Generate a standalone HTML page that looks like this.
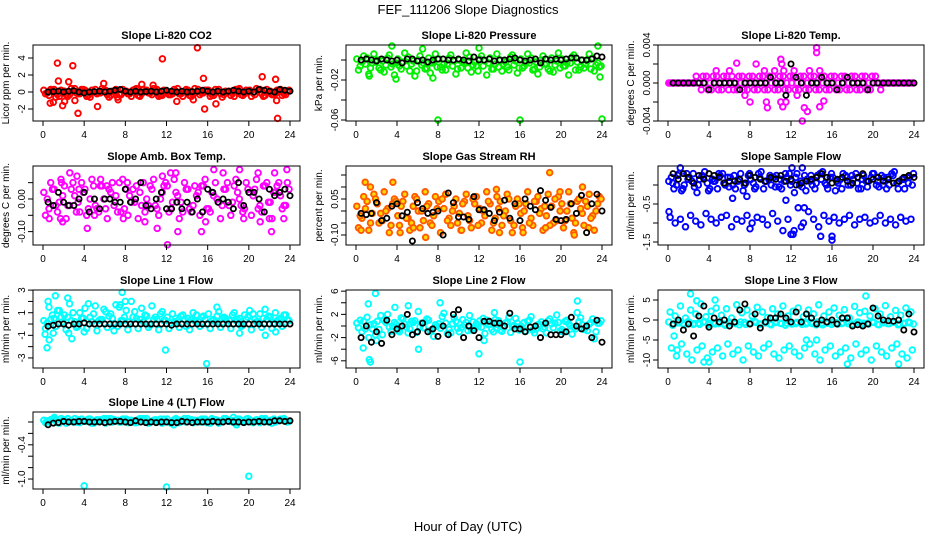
<!DOCTYPE html>
<html><head><meta charset="utf-8"><style>
body{margin:0;background:#fff;}
svg{display:block;font-family:"Liberation Sans",Arial,sans-serif;}
</style></head><body>
<svg id="chart" width="936" height="540" viewBox="0 0 936 540" xmlns="http://www.w3.org/2000/svg">
<rect width="936" height="540" fill="#fff"/>
<text x="468" y="14" text-anchor="middle" font-size="13">FEF_111206  Slope Diagnostics</text>
<text x="468" y="531" text-anchor="middle" font-size="13">Hour of Day (UTC)</text>
</svg>
<script>
const xTicks=[0,4,8,12,16,20,24];
// CO2
const co2A=[0.2,-0.4,0.3,-0.5,0.1,-0.3,0.4,-0.2,0.2,-0.6,0.3,-0.1,0.2,-0.4,0.3,-0.3,0.1,-0.5,0.4,-0.2,0.2,-0.3,0.3,-0.4,0.1,-0.2,0.4,-0.5,0.2,-0.3,0.3,-0.1,0.2,-0.4,0.3,-0.3,0.1,-0.5,0.4,-0.2,0.2,-0.3,0.3,-0.4,0.1,-0.2,0.3,-0.3];
const co2B=[-0.2,0.3,-0.6,0.2,-0.3,0.4,-0.1,0.3,-0.5,0.2,-0.2,0.4,-0.3,0.1,-0.6,0.3,-0.2,0.2,-0.4,0.3,-0.1,0.4,-0.5,0.2,-0.3,0.3,-0.2,0.1,-0.4,0.4,-0.3,0.2,-0.5,0.3,-0.2,0.1,-0.4,0.3,-0.3,0.2,-0.5,0.4,-0.2,0.3,-0.3,0.2,-0.4,0.1];
const co2C=[-0.1,0.2,-0.3,0.0,-0.5,0.1,-0.2,0.3,-0.4,0.0,-0.1,0.2,-0.6,0.1,-0.3,0.0,-0.2,0.3,-0.5,0.1,-0.1,0.2,-0.4,0.0,-0.3,0.1,-0.2,0.3,-0.5,0.0,-0.1,0.2,-0.3,0.1,-0.6,0.0,-0.2,0.3,-0.4,0.1,-0.1,0.2,-0.5,0.0,-0.3,0.1,-0.2,0.2];
const co2Out=[[1.4,3.4],[1.5,1.3],[1.9,-1.6],[2.5,1.2],[2.9,3.1],[3.4,-2.5],[0.7,-1.3],[5.3,-1.7],[5.9,1.0],[11.6,3.9],[13.0,-1.1],[15.0,5.2],[15.6,1.6],[15.7,-2.0],[16.8,-1.4],[21.3,1.8],[22.6,1.5],[22.8,-3.1],[14.6,-0.9],[22.7,-1.0],[7.3,-0.9],[9.6,0.9],[10.7,0.8],[2.1,-1.1],[3.1,-1.0],[1.0,-1.2]];
const co2K=[0.0,0.05,0.1,0.0,0.1,0.15,0.0,-0.1,0.0,0.05,0.1,0.0,0.1,0.2,0.3,0.1,0.0,0.1,0.0,0.05,0.1,0.0,0.1,0.2,0.1,0.0,0.1,0.0,0.05,0.1,0.2,0.1,0.0,0.1,0.0,0.1,0.2,0.1,0.0,0.1,0.0,0.3,0.2,0.1,0.0,0.3,0.2,0.1];
// Pressure
const prA=[0.001,-0.002,0.002,-0.003,0.000,-0.001,0.002,-0.004,0.001,-0.002,0.003,-0.001,0.000,-0.003,0.002,-0.002,0.001,-0.004,0.002,-0.001,0.000,-0.003,0.003,-0.002,0.001,-0.001,0.002,-0.004,0.000,-0.002,0.003,-0.001,0.001,-0.003,0.002,-0.002,0.000,-0.004,0.002,-0.001,0.001,-0.003,0.003,-0.002,0.000,-0.001,0.002,-0.003];
const prB=[-0.010,0.004,-0.014,0.006,-0.008,-0.012,0.005,-0.015,-0.006,0.007,-0.011,-0.016,0.004,-0.009,-0.013,0.006,-0.007,-0.010,0.005,-0.014,-0.008,0.007,-0.012,-0.006,0.004,-0.015,-0.009,0.006,-0.011,-0.007,0.005,-0.013,-0.008,0.006,-0.010,-0.014,0.004,-0.009,-0.012,0.007,-0.006,-0.015,0.005,-0.010,-0.008,0.006,-0.011,-0.007];
const prC=[-0.006,-0.004,-0.008,-0.002,-0.010,-0.005,-0.007,-0.003,-0.009,-0.006,-0.004,-0.011,-0.005,-0.008,-0.003,-0.007,-0.010,-0.004,-0.006,-0.009,-0.002,-0.008,-0.005,-0.011,-0.006,-0.003,-0.009,-0.007,-0.004,-0.010,-0.005,-0.008,-0.006,-0.003,-0.009,-0.007,-0.004,-0.011,-0.005,-0.008,-0.006,-0.003,-0.010,-0.007,-0.004,-0.009,-0.005,-0.006];
const prOut=[[8,-0.06],[16,-0.06],[24,-0.059],[23.8,-0.017],[3.5,0.014],[23.6,0.014],[12,0.012],[6.5,0.011],[7.5,-0.018],[1.3,-0.016],[3.9,-0.019]];
const prK=[0.000,0.001,0.000,-0.001,0.001,0.000,-0.001,0.000,-0.003,0.001,0.001,-0.001,0.000,-0.002,0.000,0.001,0.001,0.000,0.000,0.001,0.000,-0.001,0.003,0.000,0.000,0.001,-0.001,0.000,0.000,0.001,0.002,0.000,-0.001,0.000,0.001,-0.003,0.001,0.000,0.001,0.000,0.001,0.002,0.002,0.000,0.000,0.001,0.004,0.003];
// Li-820 Temp
const tpA=[0,0,0,0,0,0,0,0,0,0,0,0,0,0,0,0,0,0,0,0,0,0,0,0,0,0,0,0,0,0,0,0,0,0,0,0,0,0,0,0,0,0,0,0,0,0,0,0];
const tpB=[0,0,0,0,0,0.0007,-0.0007,0.0007,-0.0007,0.0007,-0.0007,0.0007,0.0007,-0.0007,0.0007,-0.0007,0.0007,-0.0007,0.0007,-0.0007,0.0007,-0.0007,0.0007,-0.0007,0.0007,-0.0007,0.0007,-0.0007,0.0007,-0.0007,0.0007,-0.0007,0.0007,-0.0007,0.0007,-0.0007,0.0007,-0.0007,0.0007,-0.0007,0.0007,-0.0007,0,0,0,0,0,0];
const tpC=[0,0,0,0,0,0,0.0007,-0.0007,0.0007,-0.0007,0.0007,-0.0007,-0.0007,0.0007,-0.0007,0.0007,-0.0007,0.0007,-0.0007,0.0007,-0.0007,0.0007,-0.0007,0.0007,-0.0007,0.0007,-0.0007,0.0007,-0.0007,0.0007,-0.0007,0.0007,-0.0007,0.0007,-0.0007,0.0007,-0.0007,0.0007,-0.0007,0.0007,0,0,0,0,0,0,0,0];
const tpOut=[[4.7,0.0013],[6,0.0013],[6.7,0.0021],[7.5,-0.0013],[8,-0.002],[8.6,0.002],[9.4,0.0013],[9.6,-0.002],[9.7,-0.0026],[10.4,0.0013],[11,0.0025],[11.1,0.002],[11.3,0.0013],[11,-0.002],[11.2,-0.0025],[11.5,-0.002],[12.3,0.0013],[12.6,-0.0013],[13.1,-0.004],[13.3,-0.0026],[13.6,-0.003],[14.5,0.0037],[14.5,0.0032],[14.8,-0.0025],[15.2,-0.0019],[13.8,0.0013],[14.8,0.0013]];
const tpK=[0,0,0,0,0,0,0,-0.0007,0,0,0,0,0,-0.0007,0,0,0,0,0,0.0006,0,0,-0.0013,0.002,0.0006,0,-0.0013,0,0,0.0006,0,0,-0.0007,0,0.0006,0,0,0,-0.0007,0,0,0,0,0,0,0,0,0];
// Amb box temp
const abA=[0.02,-0.03,0.03,-0.01,0.04,-0.02,0.01,-0.04,0.03,0.00,-0.02,0.04,-0.03,0.02,0.01,-0.04,0.03,-0.01,0.04,-0.02,0.00,0.03,-0.03,0.02,0.04,-0.01,0.01,-0.04,0.03,-0.02,0.02,0.04,-0.03,0.01,-0.01,0.03,-0.02,0.04,0.00,-0.03,0.02,0.03,-0.02,0.04,-0.01,0.02,0.01,-0.02];
const abB=[-0.05,0.05,-0.02,0.06,-0.06,0.03,-0.04,0.05,-0.05,0.06,-0.03,0.04,-0.06,0.05,-0.04,0.06,-0.05,0.03,-0.06,0.05,-0.02,0.06,-0.05,0.04,-0.04,0.06,-0.06,0.05,-0.03,0.04,-0.05,0.06,-0.04,0.05,-0.06,0.03,-0.05,0.06,-0.02,0.05,-0.05,0.06,-0.04,0.05,-0.06,0.04,-0.03,0.05];
const abC=[0.00,0.03,-0.04,0.01,-0.02,0.05,-0.01,0.02,-0.03,0.04,-0.04,0.00,0.03,-0.02,0.05,-0.03,0.01,-0.01,0.02,-0.04,0.04,-0.02,0.00,0.05,-0.03,0.02,-0.01,0.03,-0.04,0.01,0.04,-0.03,0.02,0.00,-0.02,0.05,-0.01,0.02,-0.04,0.03,0.01,-0.03,0.04,-0.01,0.02,0.05,-0.02,0.03];
const abOut=[[1.8,0.05],[1.7,-0.06],[1.9,-0.07],[2.6,0.08],[3.3,0.07],[3.5,0.03],[4.3,-0.09],[5.6,0.06],[6.2,0.04],[7.8,-0.06],[8.2,0.05],[9.9,-0.07],[11.1,-0.09],[11.6,0.07],[12.1,-0.14],[12.4,0.08],[12.9,0.08],[13.1,-0.10],[15.4,-0.10],[15.8,-0.07],[16.6,0.09],[17.5,0.08],[19.1,0.09],[19.5,-0.06],[20.9,0.08],[21.1,-0.07],[22,-0.06],[22.2,-0.10],[22.5,0.08],[23.4,-0.06],[23.7,0.09],[0.6,-0.06],[5.0,-0.05]];
const abK=[-0.01,-0.02,0.02,-0.01,-0.02,-0.02,0.00,0.02,-0.04,0.00,-0.03,0.00,0.00,-0.01,-0.01,0.03,-0.01,0.00,0.05,-0.02,-0.03,0.00,0.02,-0.03,-0.03,-0.01,-0.03,-0.01,-0.04,0.00,-0.04,0.03,0.02,-0.01,0.00,-0.01,-0.03,0.05,-0.02,0.02,0.02,0.00,-0.04,0.03,0.01,0.02,0.03,0.01];
// Gas stream RH
const rhA=[0.02,-0.03,0.04,-0.01,0.03,-0.04,0.01,0.03,-0.02,0.04,-0.03,0.02,0.00,-0.04,0.03,-0.02,0.04,0.01,-0.03,0.02,-0.01,0.04,-0.04,0.03,0.01,-0.02,0.03,-0.03,0.04,0.00,-0.04,0.02,-0.01,0.03,-0.03,0.04,0.01,-0.02,0.02,-0.04,0.03,0.00,-0.03,0.04,-0.01,0.02,-0.02,0.03];
const rhB=[-0.07,0.06,-0.08,0.07,-0.05,0.08,-0.09,0.05,-0.06,0.07,-0.08,0.06,-0.07,0.08,-0.05,0.06,-0.09,0.07,-0.06,0.05,-0.08,0.07,-0.07,0.06,-0.05,0.08,-0.08,0.06,-0.06,0.07,-0.09,0.05,-0.07,0.08,-0.06,0.06,-0.08,0.07,-0.05,0.06,-0.07,0.08,-0.09,0.05,-0.06,0.07,-0.08,0.06];
const rhC=[-0.02,0.01,-0.05,0.05,-0.01,0.00,-0.06,0.04,0.02,-0.03,-0.05,0.05,0.00,0.02,-0.06,0.01,0.05,-0.04,0.00,-0.05,0.03,-0.02,0.05,-0.06,0.00,0.04,-0.05,0.01,-0.02,0.05,-0.06,0.03,0.00,-0.05,0.04,-0.01,0.02,-0.06,0.05,0.00,-0.04,0.03,-0.05,0.01,0.04,-0.03,0.00,0.05];
const rhOut=[[0.9,0.12],[1.4,0.10],[3.6,0.12],[4.3,-0.09],[5.6,-0.07],[6.8,-0.11],[10.3,-0.08],[13.7,0.09],[14.0,-0.09],[16.3,-0.09],[18.5,-0.07],[18.9,0.16],[19.9,0.08],[21.3,-0.10],[22.1,0.10],[22.7,-0.07],[0.5,-0.08]];
const rhK=[-0.01,-0.015,-0.01,0.035,-0.04,-0.03,0.02,0.03,-0.02,-0.005,-0.125,0.035,0.01,-0.01,-0.005,0.0,-0.1,0.075,0.035,-0.025,-0.025,-0.035,0.06,0.005,0.005,-0.01,-0.04,-0.005,0.045,-0.03,0.03,-0.04,0.05,0.02,0.005,0.085,0.045,0.015,-0.035,-0.04,-0.035,0.03,-0.01,0.065,-0.09,0.03,0.07,0.0];
// Sample flow
const sfA=[0.1,-0.1,0.3,0.0,0.2,-0.05,0.15,0.35,-0.1,0.1,0.25,0.0,0.2,-0.1,0.3,0.05,0.15,-0.05,0.35,0.1,0.0,0.25,-0.1,0.2,0.1,0.3,-0.05,0.15,0.0,0.25,0.35,-0.1,0.2,0.05,0.3,0.0,0.15,-0.1,0.25,0.1,0.3,-0.05,0.2,0.0,0.35,0.1,-0.1,0.2];
const sfB=[-0.85,-1.0,-0.9,-1.1,-0.8,-0.95,-1.05,-0.75,-0.9,-1.0,-0.85,-0.8,-1.1,-0.9,-0.95,-0.8,-1.0,-0.85,-0.9,-1.05,-0.75,-0.95,-1.2,-0.9,-1.3,-0.6,-1.0,-0.7,-0.9,-1.1,-0.8,-0.95,-0.85,-1.0,-0.9,-0.8,-1.05,-0.9,-0.85,-1.0,-0.95,-0.8,-1.0,-0.9,-1.05,-0.85,-0.95,-0.9];
const sfC=[0.2,0.0,-0.15,0.3,0.1,-0.2,0.25,0.05,0.15,-0.1,0.3,0.2,0.0,0.1,-0.15,0.25,0.05,0.3,-0.1,0.15,0.2,-0.05,0.1,0.3,-0.2,0.0,0.25,0.1,-0.1,0.3,0.05,0.2,-0.15,0.15,0.25,0.0,0.3,-0.1,0.1,0.2,0.0,0.25,-0.1,0.3,0.05,0.15,0.2,0.0];
const sfD=[0.05,0.25,-0.1,0.15,0.3,0.0,0.2,-0.15,0.1,0.3,0.05,-0.05,0.25,0.15,0.0,0.3,-0.1,0.2,0.1,0.25,-0.05,0.15,0.3,0.0,0.2,0.1,-0.15,0.25,0.05,0.15,0.0,0.3,0.1,-0.1,0.2,0.25,0.05,0.15,-0.05,0.3,0.1,0.0,0.2,0.25,-0.1,0.15,0.05,0.3];
const sfOut=[[12,-1.3],[12.3,-1.2],[13,-1.1],[13.3,-0.6],[14.9,-1.35],[16,-1.45],[16,-1.35],[12.1,0.45],[13.1,0.45],[1.2,0.45],[0.1,-0.7],[8,-1.15],[11.5,-0.4],[6.3,-0.35],[7.7,-0.3]];
const sfK=[0.3,0.15,0.3,0.2,0.05,0.25,0.15,0.3,0.25,0.2,0.05,0.1,0.1,0.15,0.05,0.25,0.2,0.15,0.1,0.2,0.15,0.25,0.1,0.15,0.0,0.05,0.1,0.15,0.2,0.3,0.2,0.05,0.15,0.2,0.1,0.05,0.2,0.3,0.1,0.15,0.2,0.1,0.15,0.05,0.1,0.2,0.25,0.2];
// Line 1
const l1A=[0.3,1.5,0.5,1.2,0.8,1.8,0.2,1.0,1.4,0.6,1.6,0.4,1.1,0.9,1.7,0.3,1.2,2.0,0.5,1.4,0.7,1.6,0.4,1.1,0.6,0.9,0.3,0.8,0.5,1.0,0.2,0.7,0.9,0.4,1.1,0.6,0.3,1.0,0.5,0.8,1.2,0.4,0.9,1.3,0.6,1.0,0.5,0.8];
const l1B=[-0.4,0.4,-0.2,0.6,-0.5,0.3,-0.3,0.5,-0.4,0.2,-0.6,0.4,-0.3,0.5,-0.2,0.3,-0.5,0.6,-0.4,0.2,-0.3,0.4,-0.5,0.3,-0.4,0.2,-0.3,0.4,-0.5,0.3,-0.2,0.4,-0.4,0.2,-0.3,0.5,-0.4,0.3,-0.2,0.4,-0.5,0.2,-0.3,0.4,-0.4,0.3,-0.2,0.4];
const l1C=[0.1,0.8,1.2,0.2,0.6,1.0,-0.2,0.5,1.8,0.9,0.3,1.3,0.7,0.0,1.5,0.6,0.2,1.1,0.4,0.8,-0.1,0.6,0.9,0.3,0.1,0.5,0.7,-0.2,0.4,0.8,0.6,0.0,0.3,0.7,0.5,0.1,0.8,0.4,-0.1,0.6,0.9,0.2,0.5,0.7,0.1,0.4,0.8,0.3];
const l1Out=[[0.2,-0.9],[0.4,-2.1],[0.6,-1.4],[0.5,2.0],[1.0,-0.8],[1.2,2.5],[2.4,2.3],[2.8,-1.3],[4,-0.7],[7.7,2.8],[7.5,1.7],[8,2.0],[6.9,-0.6],[11.9,-2.3],[15.9,-3.5],[16.9,1.5],[19.1,-0.8],[21.6,-1.0],[22.6,-0.7],[2.5,-0.8]];
const l1K=[-0.2,-0.1,0,0,-0.1,0,0,0.1,0,0,0,0,0,0,0,0,0,0,0,0,0,0,0,0,-0.1,0,0,0,0,0,0,0,0,0,0,0,0,0,0,0,0,0,0,0,0,0,0,0];
// Line 2
const l2A=[0.5,-1.0,1.5,-0.5,0.8,-1.5,2.0,0.0,-0.8,1.2,-1.2,0.6,2.5,-0.3,1.0,-1.8,0.4,2.2,-0.6,1.4,-1.0,0.2,1.8,-0.4,0.9,-1.3,0.3,1.1,-0.7,0.5,-1.1,1.3,0.0,-0.9,1.6,-0.5,0.7,-1.2,0.4,1.9,-0.6,1.0,-1.4,2.3,0.2,-0.8,1.2,0.5];
const l2B=[-0.3,0.8,-2.0,0.4,-0.6,1.0,-0.2,0.6,-1.0,0.3,-0.5,0.9,-0.1,0.7,-0.8,0.2,-0.4,0.5,-1.2,0.8,-0.3,0.6,-0.7,0.4,-0.2,1.0,-0.6,0.3,-0.9,0.7,-0.1,0.5,-0.4,0.8,-0.7,0.2,-0.5,0.9,-0.3,0.6,-1.0,0.4,-0.2,0.7,-0.6,0.3,-2.2,0.5];
const l2C=[1.0,-0.5,0.2,-1.5,1.8,0.6,-0.9,0.3,1.4,-0.2,0.8,-1.1,0.5,1.2,-0.6,0.0,1.6,-1.3,0.4,-0.4,1.1,-0.8,0.7,-0.1,1.3,0.2,-1.0,0.9,-0.3,1.5,0.1,-0.7,0.6,1.0,-1.2,0.3,-0.2,1.2,0.5,-0.9,0.8,0.0,-0.5,1.4,-0.3,0.6,-1.0,0.9];
const l2Out=[[0.7,-3.8],[1.3,-5.8],[1.4,-6.2],[1.2,3.8],[1.9,5.6],[12,-4.8],[16,-6.2],[13.5,2.3],[21.6,4.3],[12.5,-2.5],[6.1,-4.0],[2.0,-2.5],[3.8,3.2],[5.1,3.5],[8.2,4.0]];
const l2K=[-2,0,-2.8,-1,-3,1,-1.5,-0.5,0,2,-1.5,-1,0.5,-1,-0.5,-1.8,0,-1.5,2,2.8,-2,0,-0.8,-2,0.8,0.8,0.5,0.5,0,2.2,-0.5,-0.5,-1,-0.2,0,-2,0.5,-1.5,-1.5,-1.5,-1,1.5,0,-0.5,0,-2,1,-2.8];
// Line 3
const l3A=[-0.5,-1.0,-0.7,-1.2,-0.6,-0.9,-1.1,-0.4,-0.8,-1.0,-0.6,-1.3,-0.7,-0.9,-0.5,-1.1,-0.8,-0.6,-1.0,-0.7,-1.2,-0.5,-0.9,-0.8,-1.0,-0.6,-1.1,-0.7,-0.9,-0.5,-1.2,-0.8,-0.6,-1.0,-0.7,-0.9,-1.1,-0.5,-0.8,-1.0,-0.6,-1.2,-0.7,-0.9,-0.5,-1.0,-0.8,-0.7];
const l3B=[2,1,3.5,0.5,2.5,1.5,4,0.8,2.2,3,1.2,2.8,0.5,3.8,1.8,2.5,1,3.2,2,0.6,2.8,1.5,3.5,1,2.2,3,0.8,2.5,1.5,3.8,1,2,3,1.2,2.6,0.5,3.4,1.8,2.2,1,2.8,1.5,3.6,0.8,2.4,1.2,3,2];
const l3C=[-7,-9,-6,-8.5,-10,-7.5,-6.5,-9.5,-8,-7,-9,-6,-8.5,-7.5,-10,-6.5,-8,-9,-7,-6,-8.5,-9.5,-7.5,-6.5,-8,-9,-7,-6,-8.5,-10,-7.5,-6.5,-9,-8,-7,-9.5,-6,-8.5,-7.5,-10,-6.5,-8,-9,-7,-6,-8.5,-9.5,-7.5];
const l3D=[-1.3,-0.6,-0.9,-0.4,-1.1,-0.8,-0.5,-1.2,-0.7,-0.9,-1.0,-0.5,-0.8,-1.2,-0.6,-0.9,-0.4,-1.1,-0.7,-1.0,-0.6,-0.8,-1.3,-0.5,-0.9,-0.7,-1.0,-0.6,-1.2,-0.8,-0.5,-1.1,-0.7,-0.9,-0.4,-1.0,-0.6,-1.2,-0.8,-0.5,-1.1,-0.7,-0.9,-0.6,-1.2,-0.8,-0.5,-1.0];
const l3Out=[[2.2,6.5],[19.3,6],[3.5,-10.5],[4,-10.5],[17.5,-11],[22.5,-11],[0.6,-4],[2.8,4.8],[4.6,5],[0.9,-7.5],[13.5,-5],[14.5,-5]];
const l3K=[-1,0,-2.5,-1,-4,1,3.5,-1.8,0.5,-0.5,0,-1.5,-0.5,2.5,4,-1,1.5,-2,-0.5,0.5,0.5,1.5,0.5,-0.5,2,-0.5,1.5,0.5,-1,0,-0.5,0,-1,0.5,0.5,-1.5,-1.2,-1.5,-1,3,1,0,-0.2,-0.3,0,-2.5,1.5,-3];
// Line 4
const l4A=[0.03,0.0,0.05,-0.02,0.04,0.01,0.06,-0.01,0.03,0.05,0.0,0.04,-0.02,0.06,0.02,0.0,0.05,0.03,-0.01,0.04,0.06,0.01,0.03,-0.02,0.05,0.0,0.04,0.02,0.06,-0.01,0.03,0.05,0.0,0.04,-0.02,0.06,0.01,0.03,0.05,0.0,0.04,0.02,-0.01,0.06,0.03,0.0,0.05,0.02];
const l4B=[-0.01,0.04,0.02,0.06,-0.02,0.03,0.0,0.05,0.01,-0.02,0.04,0.02,0.06,0.0,0.03,0.05,-0.01,0.02,0.04,0.06,-0.02,0.03,0.01,0.05,0.0,0.04,-0.01,0.06,0.02,0.03,0.0,0.05,-0.02,0.04,0.01,0.06,0.02,-0.01,0.03,0.05,0.0,0.04,0.06,0.01,-0.02,0.03,0.05,0.0];
const l4C=[0.02,0.05,-0.01,0.03,0.06,0.0,0.04,0.01,0.05,-0.02,0.03,0.06,0.01,0.04,0.0,0.05,0.02,-0.01,0.06,0.03,0.0,0.04,0.05,0.01,-0.02,0.06,0.03,0.0,0.04,0.02,0.05,-0.01,0.06,0.03,0.01,0.04,0.0,0.05,0.02,0.06,-0.01,0.03,0.04,0.0,0.05,0.02,0.06,0.01];
const l4Out=[[4,-1.12],[12,-1.14],[20,-0.95],[18.5,0.08],[18.8,-0.05],[12.7,-0.05],[1.1,0.08]];
const l4K=[-0.05,-0.02,-0.01,0.01,0.0,0.0,0.01,0.01,0.0,0.0,0.0,-0.01,0.0,0.01,0.01,0.0,-0.01,0.02,0.0,-0.01,0.0,-0.01,0.0,0.0,-0.01,-0.01,0.01,0.0,-0.01,0.0,0.0,0.0,0.01,0.0,0.0,0.01,0.0,0.0,-0.01,0.0,0.0,0.01,0.0,0.0,0.02,0.02,0.01,0.02];

const panels=[
 {name:'co2',title:'Slope Li-820 CO2',ylab:'Licor ppm per min.',col:0,row:0,ymin:-3.41,ymax:5.53,ticks:[-2,0,2,4],labels:['-2','0','2','4'],color:'#ff0000',fill:'none',series:[co2A,co2B,co2C],out:co2Out,black:co2K},
 {name:'pressure',title:'Slope Li-820 Pressure',ylab:'kPa per min.',col:1,row:0,ymin:-0.061,ymax:0.015,ticks:[0,-0.02,-0.04,-0.06],labels:['','-0.02','','-0.06'],color:'#00ee00',fill:'none',series:[prA,prB,prC],out:prOut,black:prK},
 {name:'temp',title:'Slope Li-820 Temp.',ylab:'degrees C per min.',col:2,row:0,ymin:-0.004,ymax:0.004,ticks:[0.004,0.002,0,-0.002,-0.004],labels:['0.004','','0.000','','-0.004'],color:'#ff00ff',fill:'none',series:[tpA,tpB,tpC],out:tpOut,black:tpK},
 {name:'amb-box-temp',title:'Slope Amb. Box Temp.',ylab:'degrees C per min.',col:0,row:1,ymin:-0.141,ymax:0.101,ticks:[0.05,0,-0.05,-0.10],labels:['','0.00','','-0.10'],color:'#ff00ff',fill:'none',series:[abA,abB,abC],out:abOut,black:abK},
 {name:'gas-rh',title:'Slope Gas Stream RH',ylab:'percent per min.',col:1,row:1,ymin:-0.1417,ymax:0.1875,ticks:[0.15,0.10,0.05,0,-0.05,-0.10],labels:['','','0.05','','','-0.10'],color:'#ff5a00',fill:'#ffd800',series:[rhA,rhB,rhC],out:rhOut,black:rhK},
 {name:'sample-flow',title:'Slope Sample Flow',ylab:'ml/min per min.',col:2,row:1,ymin:-1.579,ymax:0.5,ticks:[0,-0.5,-1.0,-1.5],labels:['','-0.5','','-1.5'],color:'#0000ff',fill:'none',series:[sfA,sfB,sfC,sfD],out:sfOut,black:sfK},
 {name:'line1-flow',title:'Slope Line 1 Flow',ylab:'ml/min per min.',col:0,row:2,ymin:-3.89,ymax:3.01,ticks:[3,2,1,0,-1,-2,-3],labels:['3','','1','','-1','','-3'],color:'#00ffff',fill:'none',series:[l1A,l1B,l1C],out:l1Out,black:l1K},
 {name:'line2-flow',title:'Slope Line 2 Flow',ylab:'ml/min per min.',col:1,row:2,ymin:-7.24,ymax:6.2,ticks:[6,4,2,0,-2,-4,-6],labels:['6','','2','','-2','','-6'],color:'#00ffff',fill:'none',series:[l2A,l2B,l2C],out:l2Out,black:l2K},
 {name:'line3-flow',title:'Slope Line 3 Flow',ylab:'ml/min per min.',col:2,row:2,ymin:-12,ymax:7.5,ticks:[5,0,-5,-10],labels:['5','0','-5','-10'],color:'#00ffff',fill:'none',series:[l3A,l3B,l3C,l3D],out:l3Out,black:l3K},
 {name:'line4-flow',title:'Slope Line 4 (LT) Flow',ylab:'ml/min per min.',col:0,row:3,ymin:-1.175,ymax:0.175,ticks:[0,-0.2,-0.4,-0.6,-0.8,-1.0],labels:['','','-0.4','','','-1.0'],color:'#00ffff',fill:'none',series:[l4A,l4B,l4C],out:l4Out,black:l4K}
];
const colBox=[[33,300],[346,612],[658,924]];
const rowBox=[[45,121],[166,245],[290,368],[412,489]];
const NS='http://www.w3.org/2000/svg';
const svg=document.getElementById('chart');
function mk(tag,attrs,parent){const e=document.createElementNS(NS,tag);for(const k in attrs)e.setAttribute(k,attrs[k]);parent.appendChild(e);return e;}
panels.forEach(p=>{
 const [L,R]=colBox[p.col],[T,B]=rowBox[p.row];
 const xs=h=>L+10+h*(R-L-20)/24;
 const ys=v=>B-(v-p.ymin)/(p.ymax-p.ymin)*(B-T);
 const g=mk('g',{},svg);
 
 
 const t=mk('text',{x:(L+R)/2,y:T-6,'text-anchor':'middle','font-size':'11','font-weight':'bold'},g);
 t.textContent=p.title;
 
 
 const yl=mk('text',{transform:`translate(${L-24},${(T+B)/2}) rotate(-90)`,'text-anchor':'middle','font-size':'10'},g);
 yl.textContent=p.ylab;
 
 
 const pts=mk('g',{},g);
 
 
 const dot=(h,v,c,f)=>{const y=ys(v);if(y<T-3||y>B+3)return;const e=mk('circle',{cx:xs(h).toFixed(1),cy:y.toFixed(1),r:2.8,fill:f,stroke:c,'stroke-width':1.9},pts);
  
  };
 const ns=p.series.length;
 p.series.forEach((s,k)=>s.forEach((v,i)=>dot(i*0.5+0.08+k*0.5/ns,v,p.color,p.fill)));
 p.out.forEach(o=>dot(o[0],o[1],p.color,p.fill));
 const bk=mk('g',{},g);
 
 
 p.black.forEach((v,i)=>{const e=mk('circle',{cx:xs(i*0.5+0.5).toFixed(1),cy:ys(v).toFixed(1),r:2.6,fill:'none',stroke:'#000','stroke-width':1.8},bk);
  
  });
 const box=mk('rect',{x:L,y:T,width:R-L,height:B-T,fill:'none',stroke:'#000','stroke-width':1},g);
 
 
 mk('line',{x1:xs(0),x2:xs(24),y1:B,y2:B,stroke:'#000'},g);
 xTicks.forEach(h=>{mk('line',{x1:xs(h),x2:xs(h),y1:B,y2:B+5,stroke:'#000'},g);
  const tx=mk('text',{x:xs(h),y:B+17,'text-anchor':'middle','font-size':'10'},g);tx.textContent=h;
  
  });
 p.ticks.forEach((v,i)=>{const y=ys(v);mk('line',{x1:L-5,x2:L,y1:y,y2:y,stroke:'#000'},g);
  if(p.labels[i]){const tx=mk('text',{transform:`translate(${L-8},${y}) rotate(-90)`,'text-anchor':'middle','font-size':'10'},g);tx.textContent=p.labels[i];
  
  }});
});
</script>
</body></html>
